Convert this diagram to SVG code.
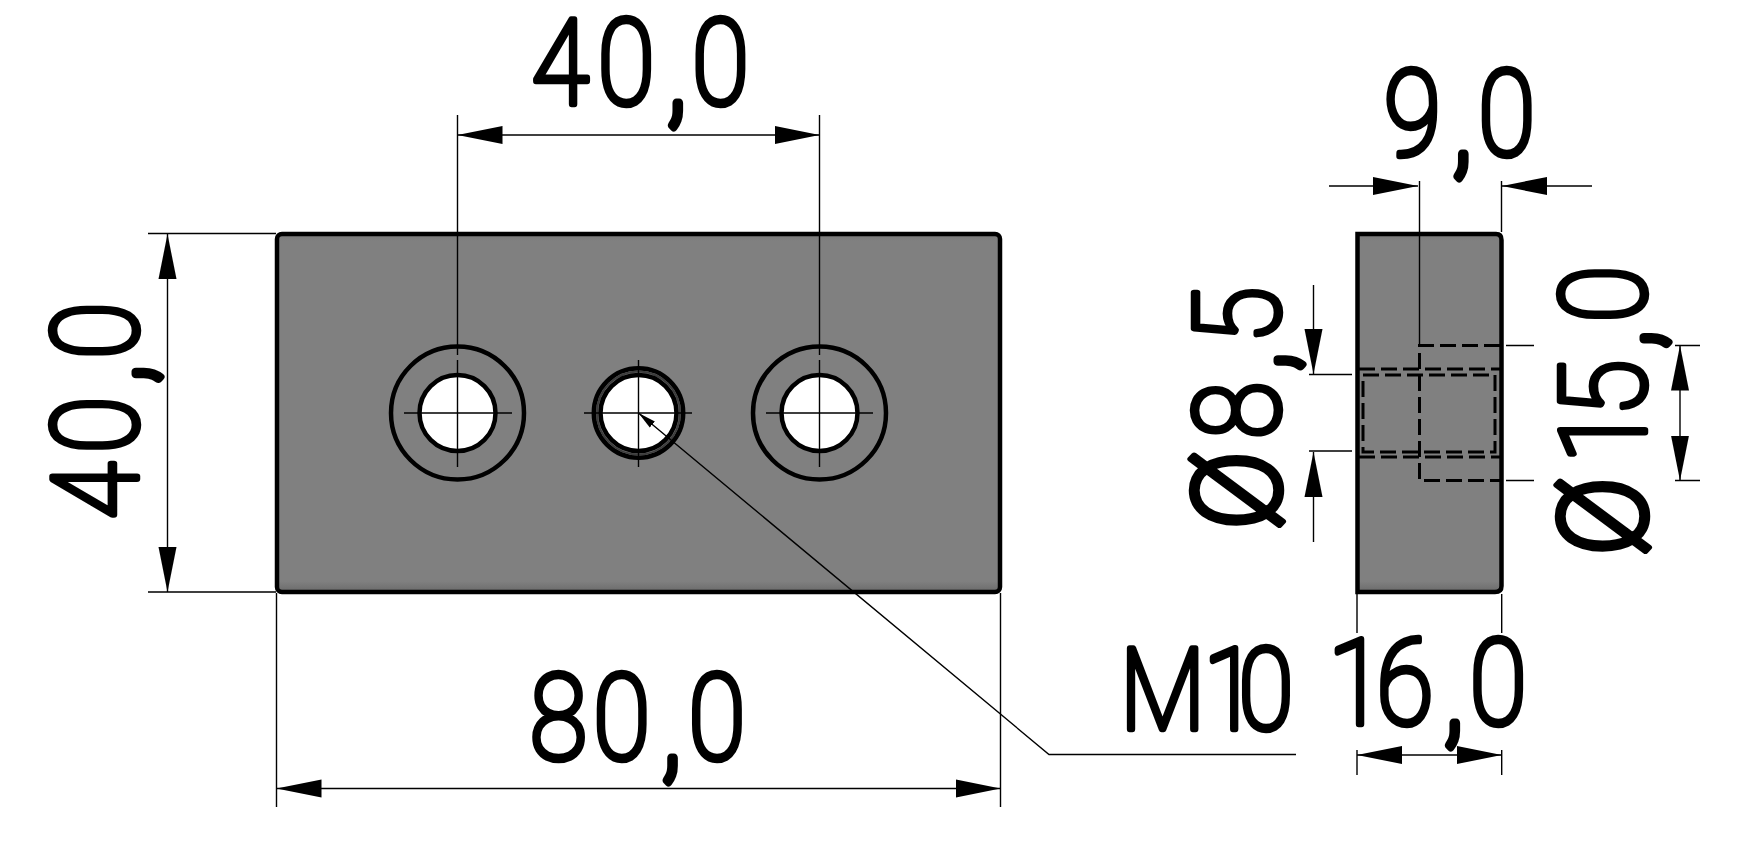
<svg xmlns="http://www.w3.org/2000/svg" width="1751" height="867" viewBox="0 0 1751 867">
<style>
.e{fill:none;stroke:#000;stroke-width:4.500}
.s{fill:url(#g);stroke:#000;stroke-width:4.500}
.t{fill:none;stroke:#000;stroke-width:1.400}
.d{fill:none;stroke:#000;stroke-width:3;stroke-dasharray:16 6}
.h{fill:#fff;stroke:#000;stroke-width:4.500}
.l{font-family:Roboto,"Liberation Sans",sans-serif;font-weight:100;font-size:118px;fill:#000;stroke:#000;stroke-width:6.500;stroke-linejoin:round;stroke-linecap:round}
.o{font-family:"DejaVu Sans",sans-serif;font-weight:200}
.c{stroke-width:9}
</style>
<defs>
<linearGradient id="g" x1="0" y1="0" x2="0" y2="1"><stop offset="0" stop-color="#7a7a7a"/><stop offset=".02" stop-color="#808080"/><stop offset=".97" stop-color="#808080"/><stop offset="1" stop-color="#6a6a6a"/></linearGradient>
<marker id="a" markerUnits="userSpaceOnUse" markerWidth="46" markerHeight="20" refX="45" refY="10" orient="auto-start-reverse"><path d="M0 1L45 10L0 19z"/></marker>
<marker id="b" markerUnits="userSpaceOnUse" markerWidth="19" markerHeight="10" refX="18" refY="5" orient="auto-start-reverse"><path d="M0 1L18 5L0 9z"/></marker>
</defs>
<rect width="1751" height="867" fill="#fff"/>
<g id="plate"><rect class="s" x="277" y="234" width="723" height="358" rx="5"/></g>
<g id="hole-left"><circle class="e" cx="457.500" cy="413" r="66.500"/><circle class="h" cx="457.500" cy="413" r="38"/></g>
<g id="hole-middle"><circle class="e" cx="638.500" cy="413" r="44.700"/><circle cx="638.500" cy="413" r="41.500" fill="none" stroke="#3c3c3c" stroke-width="2"/><circle class="h" cx="638.500" cy="413" r="38"/></g>
<g id="hole-right"><circle class="e" cx="819.500" cy="413" r="66.500"/><circle class="h" cx="819.500" cy="413" r="38"/></g>
<g id="side-view">
<path class="s" d="M1357.500 234H1496Q1501.500 234 1501.500 240V586Q1501.500 592 1495 592H1357.500Z"/>
<path class="d" d="M1500 345.500H1419.500V480.500H1500"/>
<path class="d" d="M1359 369H1500M1359 457H1500"/>
<path class="d" d="M1363 375H1495V452H1363Z"/>
</g>
<g id="connectors">
<path class="t" d="M457.500 115V355M457.500 360V467M404 413H512M638.500 360V467M584 413H692M819.500 115V355M819.500 360V467M766 413H873"/>
<path class="t" d="M457.500 135H819.500" marker-start="url(#a)" marker-end="url(#a)"/>
<path class="t" d="M148 233.500H276M148 592H276"/>
<path class="t" d="M167.500 234V592" marker-start="url(#a)" marker-end="url(#a)"/>
<path class="t" d="M276.500 593V807M1000.500 593V807"/>
<path class="t" d="M276.500 788.500H1000.500" marker-start="url(#a)" marker-end="url(#a)"/>
<path class="t" d="M638.500 413L1049 754.500H1296" marker-start="url(#b)"/>
<path class="t" d="M1419.500 181V345M1501.500 181V232"/>
<path class="t" d="M1329 186H1418" marker-end="url(#a)"/>
<path class="t" d="M1592 186H1502" marker-end="url(#a)"/>
<path class="t" d="M1309 374.500H1352M1309 451H1352"/>
<path class="t" d="M1313.500 285V374" marker-end="url(#a)"/>
<path class="t" d="M1313.500 542V452" marker-end="url(#a)"/>
<path class="t" d="M1506 345.500H1534M1675 345.500H1700M1506 480.500H1534M1675 480.500H1700"/>
<path class="t" d="M1680 413V345.500" marker-end="url(#a)"/>
<path class="t" d="M1680 413V480.500" marker-end="url(#a)"/>
<path class="t" d="M1357 594V633M1357 750V775M1501.700 594V633M1501.700 750V775"/>
<path class="t" d="M1357 755H1501.700" marker-start="url(#a)" marker-end="url(#a)"/>
</g>
<g id="labels">
<text class="l" transform="translate(530 104) scale(.88 1)" x="2 77 156 184" y="0 0 8 0">40<tspan class="c">,</tspan>0</text>
<text class="l" transform="translate(1384 155) scale(.88 1)" x="0 78 107" y="0 8 0">9<tspan class="c">,</tspan>0</text>
<text class="l" transform="translate(530 759) scale(.88 1)" x="0 72 150 180" y="0 0 8 0">80<tspan class="c">,</tspan>0</text>
<text class="l" transform="translate(1120 729) scale(.88 1)" style="font-size:113px" x="0 95 135">M10</text>
<text class="l" transform="translate(1328 724) scale(.88 1)" x="0 55 132 161" y="0 0 8 0">16<tspan class="c">,</tspan>0</text>
<text class="l" transform="translate(137 520) rotate(-90) scale(.88 1)" x="1 76 155 183" y="0 0 8 0">40<tspan class="c">,</tspan>0</text>
<text class="l" transform="translate(1279 540) rotate(-90) scale(.88 1)" x="10 115 192 223" y="0 0 8 0"><tspan class="o">Ø</tspan>8<tspan class="c">,</tspan>5</text>
<text class="l" transform="translate(1645 560) rotate(-90) scale(.88 1)" x="3 110 163 240 270" y="0 0 0 8 0"><tspan class="o">Ø</tspan>15<tspan class="c">,</tspan>0</text>
</g>
</svg>
